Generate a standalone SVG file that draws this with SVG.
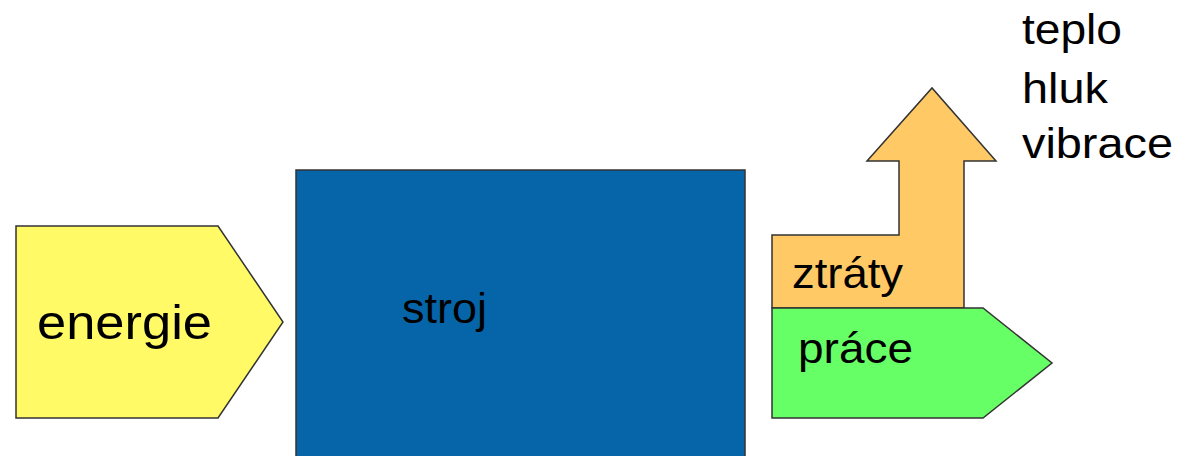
<svg xmlns="http://www.w3.org/2000/svg" width="1179" height="456" viewBox="0 0 1179 456">
<style>
.shape{stroke:#333;stroke-width:1.5;stroke-linejoin:miter}
.lbl{font-family:"Liberation Sans",Arial,sans-serif;fill:#000}
</style>
<rect width="1179" height="456" fill="#fff"/>
<g id="energie">
<polygon class="shape" fill="#FFFA66" points="16,226 218,226 283,322 218,418 16,418"/>
<text class="lbl" x="37" y="339" font-size="48" textLength="175" lengthAdjust="spacingAndGlyphs">energie</text>
</g>
<g id="stroj">
<rect class="shape" fill="#0565A8" x="296" y="170" width="449" height="300"/>
<text class="lbl" x="402" y="323" font-size="43" textLength="85" lengthAdjust="spacingAndGlyphs">stroj</text>
</g>
<g id="ztraty">
<polygon class="shape" fill="#FFC966" points="772,308 772,235 899,235 899,161 867,161 932,88 996,161 964,161 964,308"/>
<text class="lbl" x="792" y="288" font-size="42" textLength="111" lengthAdjust="spacingAndGlyphs">ztráty</text>
</g>
<g id="prace">
<polygon class="shape" fill="#66FF66" points="772,308 983,308 1052,363 983,418 772,418"/>
<text class="lbl" x="798" y="363" font-size="42" textLength="115" lengthAdjust="spacingAndGlyphs">práce</text>
</g>
<g id="vystupy">
<text class="lbl" x="1022" y="44" font-size="42" textLength="100" lengthAdjust="spacingAndGlyphs">teplo</text>
<text class="lbl" x="1022" y="103" font-size="42" textLength="86" lengthAdjust="spacingAndGlyphs">hluk</text>
<text class="lbl" x="1022" y="158" font-size="42" textLength="151" lengthAdjust="spacingAndGlyphs">vibrace</text>
</g>
<g id="connectors"/>
</svg>
